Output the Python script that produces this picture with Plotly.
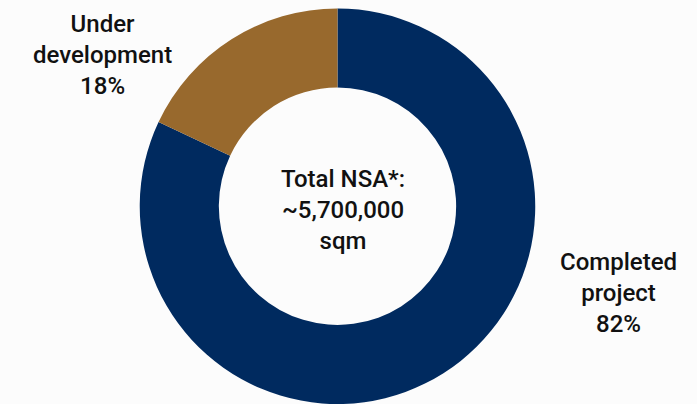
import plotly.graph_objects as go

# Share of net saleable area by status
labels = ["Completed project", "Under development"]
shares = [82, 18]
label_text = ["Completed<br>project<br>82%", "Under<br>development<br>18%"]
colors = ["#002a5f", "#98692d"]
center_text = "Total NSA*:<br>~5,700,000<br>sqm"

W, H = 697, 404
BG = "#fcfcfc"

fig = go.Figure(
    go.Pie(
        labels=labels,
        values=shares,
        hole=0.6,
        sort=False,
        direction="clockwise",
        rotation=0,
        marker=dict(colors=colors, line=dict(width=0)),
        textinfo="none",
        hoverinfo="label+percent",
        showlegend=False,
        domain=dict(x=[0.4842 - 0.2848, 0.4842 + 0.2848], y=[0.0, 0.979]),
    )
)

font = dict(family="Roboto, Lato, sans-serif", size=24, color="#111111", weight=500)


def label(x, y, text):
    fig.add_annotation(x=x / W, y=1 - y / H, xref="paper", yref="paper",
                       xanchor="center", yanchor="middle",
                       text=text, showarrow=False, font=font, align="center")


label(343, 210, center_text)
label(618, 293, label_text[0])
label(102, 55, label_text[1])

fig.update_layout(
    width=W, height=H,
    margin=dict(l=0, r=0, t=0, b=0),
    paper_bgcolor=BG, plot_bgcolor=BG,
)

fig.write_html("out.html")
